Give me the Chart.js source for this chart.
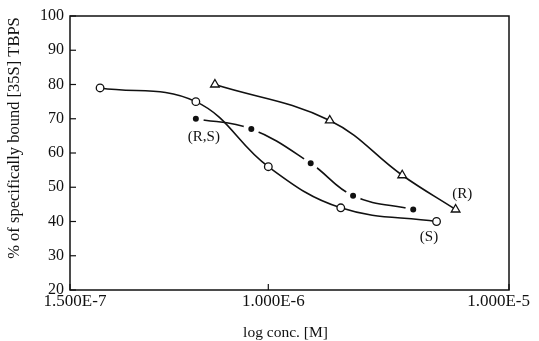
<!DOCTYPE html>
<html>
<head>
<meta charset="utf-8">
<script src="https://cdn.jsdelivr.net/npm/chart.js@4/dist/chart.umd.min.js"></script>
<style>
  html, body { margin: 0; padding: 0; background: #fff; }
  #wrap { width: 539px; height: 341px; }
</style>
</head>
<body>
<div id="wrap"><canvas id="c" width="539" height="341"></canvas></div>
<script>
// Concentrations (M) and % of specifically bound [35S] TBPS for each enantiomer
const concS  = [2.0e-7, 5.0e-7, 1.0e-6, 2.0e-6, 5.0e-6];
const boundS = [79, 75, 56, 44, 40];

const concRS  = [5.0e-7, 8.5e-7, 1.5e-6, 2.25e-6, 4.0e-6];
const boundRS = [70, 67, 57, 47.5, 43.5];

const concR  = [6.0e-7, 1.8e-6, 3.6e-6, 6.0e-6];
const boundR = [80, 69.5, 53.5, 43.5];

const xTickValues = [1.5e-7, 1.0e-6, 1.0e-5];
const yTickValues = [20, 30, 40, 50, 60, 70, 80, 90, 100];

// Series labels placed in data coordinates
const seriesLabels = ['(R,S)', '(R)', '(S)'];
const labelConc = [5.4e-7, 6.4e-6, 4.65e-6];
const labelBound = [64.7, 48, 35.5];

const yTitle = '% of specifically bound [35S] TBPS';
const xTitle = 'log conc. [M]';

const SERIF = '"Liberation Serif", "DejaVu Serif", serif';

function toPoints(xs, ys) { return xs.map((x, i) => ({ x: x, y: ys[i] })); }

function expLabel(v) {
  const e = Math.floor(Math.log10(v) + 1e-9);
  const m = v / Math.pow(10, e);
  return m.toFixed(3) + 'E' + e;
}

// Frame, inward tick marks, x tick labels, y title and curve labels
const framePlugin = {
  id: 'frame',
  afterDraw(chart) {
    const { ctx, chartArea: a, scales, width } = chart;
    ctx.save();
    ctx.strokeStyle = '#111';
    ctx.lineWidth = 1.5;
    ctx.strokeRect(a.left, a.top, a.right - a.left, a.bottom - a.top);
    ctx.lineWidth = 1.2;
    yTickValues.forEach(v => {
      const y = scales.y.getPixelForValue(v);
      ctx.beginPath(); ctx.moveTo(a.left, y); ctx.lineTo(a.left + 6, y); ctx.stroke();
    });
    xTickValues.forEach(v => {
      const x = scales.x.getPixelForValue(v);
      ctx.beginPath(); ctx.moveTo(x, a.bottom); ctx.lineTo(x, a.bottom - 6); ctx.stroke();
    });

    ctx.fillStyle = '#111';
    ctx.textBaseline = 'middle';
    ctx.textAlign = 'center';

    // x tick labels, kept inside the canvas
    ctx.font = '17px ' + SERIF;
    xTickValues.forEach(v => {
      const t = expLabel(v);
      const w = ctx.measureText(t).width;
      let x = scales.x.getPixelForValue(v) + 5;
      if (x + w / 2 > width - 9) x = width - 9 - w / 2;
      ctx.fillText(t, x, a.bottom + 12);
    });

    // x title
    ctx.font = '15.5px ' + SERIF;
    ctx.fillText(xTitle, (a.left + a.right) / 2 - 4, a.bottom + 43);

    // y title
    ctx.save();
    ctx.translate(15, 138);
    ctx.rotate(-Math.PI / 2);
    ctx.font = '16.5px ' + SERIF;
    ctx.fillText(yTitle, 0, 0);
    ctx.restore();

    // curve labels
    ctx.font = '15px ' + SERIF;
    seriesLabels.forEach((t, i) => {
      ctx.fillText(t, scales.x.getPixelForValue(labelConc[i]), scales.y.getPixelForValue(labelBound[i]));
    });
    ctx.restore();
  }
};

const lineCommon = {
  borderColor: '#111',
  borderWidth: 1.6,
  tension: 0.4,
  fill: false,
  showLine: true
};

new Chart(document.getElementById('c'), {
  type: 'scatter',
  data: {
    datasets: [
      Object.assign({}, lineCommon, {
        label: '(S)',
        data: toPoints(concS, boundS),
        pointStyle: 'circle',
        pointRadius: 3.8,
        pointBackgroundColor: '#fff',
        pointBorderColor: '#111',
        pointBorderWidth: 1.3
      }),
      Object.assign({}, lineCommon, {
        label: '(R,S)',
        data: toPoints(concRS, boundRS),
        pointStyle: 'circle',
        pointRadius: 5.5,
        pointBackgroundColor: '#111',
        pointBorderColor: '#fff',
        pointBorderWidth: 5
      }),
      Object.assign({}, lineCommon, {
        label: '(R)',
        data: toPoints(concR, boundR),
        pointStyle: 'triangle',
        pointRadius: 5,
        pointBackgroundColor: '#fff',
        pointBorderColor: '#111',
        pointBorderWidth: 1.3
      })
    ]
  },
  options: {
    responsive: false,
    animation: false,
    layout: { padding: { top: 16, right: 30, left: 0, bottom: 0 } },
    plugins: { legend: { display: false }, tooltip: { enabled: false } },
    scales: {
      x: {
        type: 'logarithmic',
        min: 1.5e-7,
        max: 1.0e-5,
        afterBuildTicks(scale) { scale.ticks = xTickValues.map(v => ({ value: v })); },
        afterFit(scale) { scale.height = 51; },
        grid: { display: false, drawTicks: false },
        border: { display: false },
        ticks: { display: false }
      },
      y: {
        min: 20,
        max: 100,
        afterBuildTicks(scale) { scale.ticks = yTickValues.map(v => ({ value: v })); },
        afterFit(scale) { scale.width = 70; },
        grid: { display: false, drawTicks: false },
        border: { display: false },
        ticks: {
          padding: 6,
          color: '#111',
          font: { family: SERIF, size: 16 }
        }
      }
    }
  },
  plugins: [framePlugin]
});
</script>
</body>
</html>
